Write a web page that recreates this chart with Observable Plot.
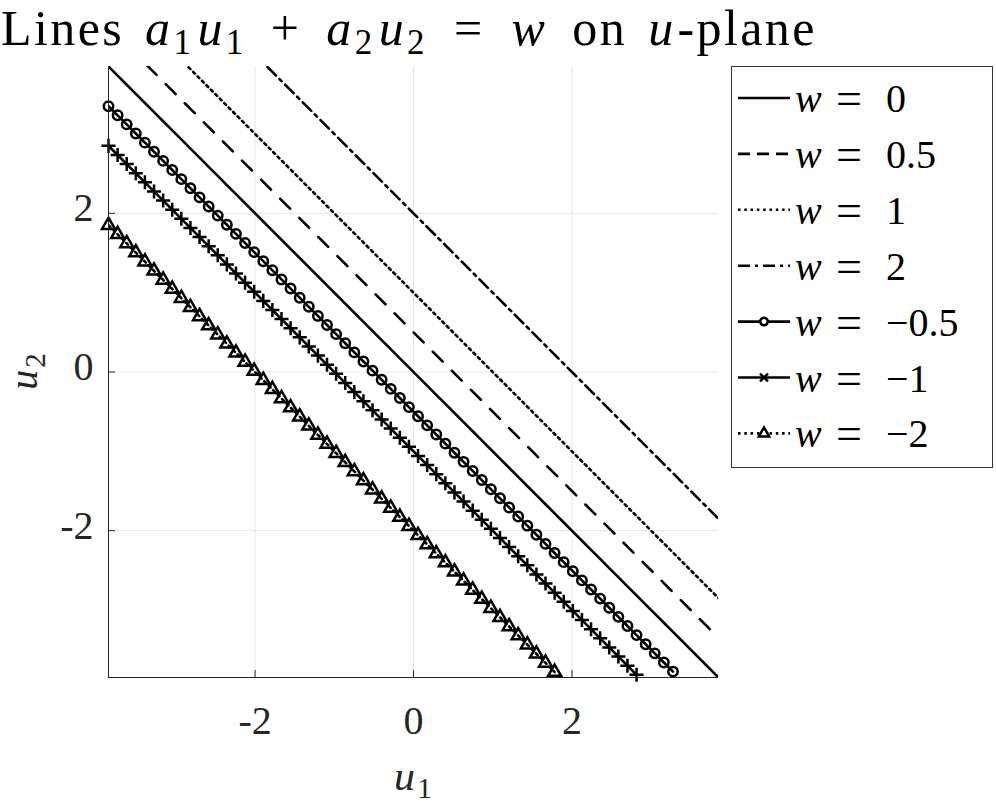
<!DOCTYPE html>
<html><head><meta charset="utf-8">
<script src="https://cdn.jsdelivr.net/npm/d3@7"></script>
<script src="https://cdn.jsdelivr.net/npm/@observablehq/plot@0.6"></script>
<style>
body{margin:0;background:#fff;}
#chart{position:relative;width:996px;height:811px;}
</style></head><body><div id="chart"></div>
<script>
// ---- data ----
const wValues = [0, 0.5, 1, 2, -0.5, -1, -2];
const wLabels = ["0", "0.5", "1", "2", "\u22120.5", "\u22121", "\u22122"];
const a1 = 1, a2 = 1;
const axisLimit = 3.85;
const sampleCount = 68;
const xTicks = [-2, 0, 2];
const yTicks = [-2, 0, 2];

// ---- styles ----
const dashes = [null, "14,13", "2.5,3.8", "12,5,3,5", null, null, "2.5,3.8"];
const markers = [null, null, null, null, "circle", "plus", "triangle2"];
const markerR = {circle: 4.7, plus: 4.6, triangle2: 6.2};
const FONT = "'Liberation Serif', 'Times New Roman', serif";
const INK = "#262626";

const W = 996, H = 811;
const mL = 108, mR = 278, mT = 66, mB = 134;
const frameW = W - mL - mR, frameH = H - mT - mB;

const u1Samples = d3.range(sampleCount).map(i => -axisLimit + i * 2 * axisLimit / (sampleCount - 1));
const series = wValues.map((w, k) => u1Samples.map(u1 => ({k, w, u1, u2: (w - a1 * u1) / a2})));
const inside = d => d.u2 >= -axisLimit - 1e-9 && d.u2 <= axisLimit + 1e-9;

const marks = [
  Plot.gridX(xTicks, {stroke: "#e6e6e6", strokeOpacity: 1}),
  Plot.gridY(yTicks, {stroke: "#e6e6e6", strokeOpacity: 1})
];
series.forEach((s, k) => {
  const data = markers[k] ? s.filter(inside) : s;
  marks.push(Plot.line(data, {x: "u1", y: "u2", stroke: "black", strokeWidth: 2.6,
    strokeDasharray: dashes[k] || undefined, clip: true}));
});
series.forEach((s, k) => {
  if (!markers[k]) return;
  marks.push(Plot.dot(s.filter(inside), {x: "u1", y: "u2", symbol: markers[k], r: markerR[markers[k]],
    stroke: "black", strokeWidth: 2.5, fill: "none"}));
});
marks.push(
  Plot.ruleX([-axisLimit], {stroke: INK, strokeWidth: 1}),
  Plot.ruleY([-axisLimit], {stroke: INK, strokeWidth: 1}),
  Plot.ruleX(xTicks, {stroke: INK, insetTop: frameH - 7}),
  Plot.ruleY(yTicks, {stroke: INK, insetRight: frameW - 7}),
  Plot.axisX(xTicks, {tickSize: 0, tickPadding: 28, tickFormat: d => `${d}`, fontSize: 40,
    fontFamily: FONT, fill: INK, label: null}),
  Plot.axisY(yTicks, {tickSize: 0, tickPadding: 15, dy: -5, tickFormat: d => `${d}`, fontSize: 40,
    fontFamily: FONT, fill: INK, label: null})
);

const svg = Plot.plot({
  width: W, height: H,
  marginLeft: mL, marginRight: mR, marginTop: mT, marginBottom: mB,
  x: {domain: [-axisLimit, axisLimit]},
  y: {domain: [-axisLimit, axisLimit]},
  style: {fontFamily: FONT, fontSize: "40px", background: "white", overflow: "visible"},
  marks
});
document.getElementById("chart").appendChild(svg);

// ---- rich text helper: parts are [text, kind, extraGapBefore] ----
const S = d3.select(svg);
function rich(sel, parts, subSize, subShift) {
  let shifted = false;
  parts.forEach(([t, kind, gap]) => {
    const ts = sel.append("tspan").text(t);
    if (gap) ts.attr("dx", gap);
    if (kind === "i") ts.attr("font-style", "italic");
    if (kind === "sub") {
      ts.attr("font-size", subSize).attr("dy", subShift);
      shifted = true;
    } else if (shifted) {
      ts.attr("dy", -subShift);
      shifted = false;
    }
  });
}

// title
const title = S.append("text").attr("x", 1).attr("y", 45).attr("font-size", 50)
  .attr("text-anchor", "start").attr("font-family", FONT).attr("fill", "black")
  .attr("letter-spacing", 2.4);
rich(title, [["Lines", "r"], ["a", "i", 21], ["1", "sub", 1], ["u", "i", 4], ["1", "sub", 1],
  ["+", "r", 25], ["a", "i", 25], ["2", "sub", 1], ["u", "i", 4], ["2", "sub", 1],
  ["=", "r", 27], ["w", "i", 27], ["on", "r", 25], ["u", "i", 21], ["-plane", "r", 2]], 35, 9);

// axis labels
const xl = S.append("text").attr("x", mL + frameW / 2).attr("y", 790).attr("text-anchor", "middle")
  .attr("font-size", 42).attr("font-family", FONT).attr("fill", INK);
rich(xl, [["u", "i"], ["1", "sub", 2]], 30, 8);
const yl = S.append("text").attr("transform", `translate(37,${mT + frameH / 2}) rotate(-90)`)
  .attr("text-anchor", "middle").attr("font-size", 40).attr("font-family", FONT).attr("fill", INK);
rich(yl, [["u", "i"], ["2", "sub", 2]], 29, 8);

// legend
const lg = S.append("g").attr("text-anchor", "start");
lg.append("rect").attr("x", 731.5).attr("y", 66.5).attr("width", 261).attr("height", 401)
  .attr("fill", "white").attr("stroke", "#333").attr("stroke-width", 1);
wValues.forEach((w, k) => {
  const cy = 98 + k * 55.9;
  lg.append("line").attr("x1", 738).attr("x2", 790).attr("y1", cy).attr("y2", cy)
    .attr("stroke", "black").attr("stroke-width", 2.6)
    .attr("stroke-dasharray", dashes[k] ? (k === 1 ? "12,7" : dashes[k]) : null);
  const m = markers[k];
  if (m) {
    const sym = {circle: d3.symbolCircle, plus: d3.symbolTimes, triangle2: d3.symbolTriangle2}[m];
    const rr = markerR[m] * 0.8;
    lg.append("path").attr("transform", `translate(764,${cy})`)
      .attr("d", d3.symbol(sym, rr * rr * Math.PI)())
      .attr("fill", m === "circle" ? "white" : (m === "triangle2" ? "white" : "none"))
      .attr("stroke", "black").attr("stroke-width", 2.5);
  }
  const t = lg.append("text").attr("y", cy + 14).attr("font-size", 40).attr("font-family", FONT)
    .attr("fill", "black").attr("text-anchor", "start");
  t.append("tspan").attr("x", 795).attr("font-style", "italic").text("w");
  t.append("tspan").attr("x", 836).attr("font-size", 46).attr("dy", 2).text("=");
  t.append("tspan").attr("x", 886).attr("dy", -2).text(wLabels[k]);
});
</script></body></html>
